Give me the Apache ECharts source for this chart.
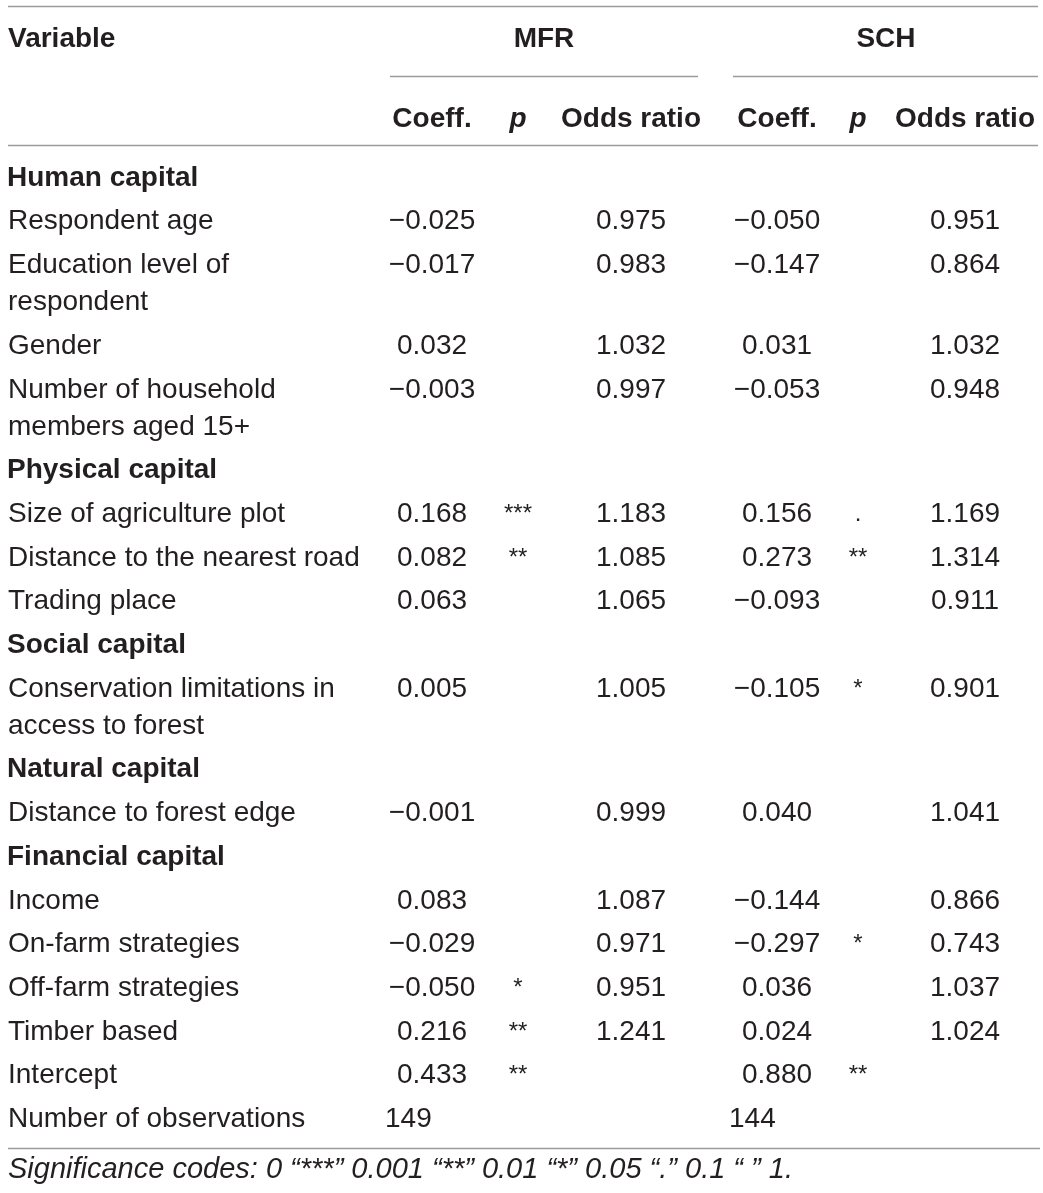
<!DOCTYPE html>
<html>
<head>
<meta charset="utf-8">
<script src="https://cdn.jsdelivr.net/npm/echarts@6/dist/echarts.min.js"></script>
<style>
html,body{margin:0;padding:0;background:#fff;}
#chart{width:1043px;height:1193px;}
</style>
</head>
<body>
<div id="chart"></div>
<script>
// ---------- DATA ----------
const headerTop = ['Variable', 'MFR', 'SCH'];
const subHeaders = ['Coeff.', 'p', 'Odds ratio'];
const sections = ['Human capital', 'Physical capital', 'Social capital', 'Natural capital', 'Financial capital'];
const rowLabels = [
  'Human capital',
  'Respondent age',
  'Education level of\nrespondent',
  'Gender',
  'Number of household\nmembers aged 15+',
  'Physical capital',
  'Size of agriculture plot',
  'Distance to the nearest road',
  'Trading place',
  'Social capital',
  'Conservation limitations in\naccess to forest',
  'Natural capital',
  'Distance to forest edge',
  'Financial capital',
  'Income',
  'On-farm strategies',
  'Off-farm strategies',
  'Timber based',
  'Intercept',
  'Number of observations'
];
const mfrCoeff = [null, -0.025, -0.017, 0.032, -0.003, null, 0.168, 0.082, 0.063, null, 0.005, null, -0.001, null, 0.083, -0.029, -0.050, 0.216, 0.433, null];
const mfrP     = ['', '', '', '', '', '', '***', '**', '', '', '', '', '', '', '', '', '*', '**', '**', ''];
const mfrOdds  = [null, 0.975, 0.983, 1.032, 0.997, null, 1.183, 1.085, 1.065, null, 1.005, null, 0.999, null, 1.087, 0.971, 0.951, 1.241, null, null];
const schCoeff = [null, -0.050, -0.147, 0.031, -0.053, null, 0.156, 0.273, -0.093, null, -0.105, null, 0.040, null, -0.144, -0.297, 0.036, 0.024, 0.880, null];
const schP     = ['', '', '', '', '', '', '.', '**', '', '', '*', '', '', '', '', '*', '', '', '**', ''];
const schOdds  = [null, 0.951, 0.864, 1.032, 0.948, null, 1.169, 1.314, 0.911, null, 0.901, null, 1.041, null, 0.866, 0.743, 1.037, 1.024, null, null];
const observations = [149, 144];
const footnote = 'Significance codes: 0 \u201c***\u201d 0.001 \u201c**\u201d 0.01 \u201c*\u201d 0.05 \u201c.\u201d 0.1 \u201c \u201d 1.';

// ---------- LAYOUT ----------
const L = {
  W: 1043, H: 1193,
  fs: 28, starFs: 24, footFs: 29,
  family: '"Liberation Sans", Arial, Helvetica, sans-serif',
  color: '#231f20',
  rule: '#9b9b9b', ruleW: 1.6,
  textLeft: 8, sectionLeft: 7, textDy: 2,
  cols: [432, 518, 631, 777, 858, 965],
  groupCenter: [544, 886],
  obsLeft: [385, 729],
  ruleX: [8, 1038],
  groupRules: [[390, 698], [733, 1038]],
  yTopRule: 6, yHead1: 37, yGroupRule: 76, yHead2: 117, yHeadRule: 145,
  yFirstRow: 176, rowH: 43.7, lineH: 37,
  yBottomRule: 1148, yFoot: 1168
};

function fmt(v) {
  if (v === null || v === undefined) return '';
  const s = Math.abs(v).toFixed(3);
  return v < 0 ? '\u2212' + s : s;
}

// ---------- BUILD CELLS ----------
const cells = [];
function addCell(x, y, text, opt) {
  cells.push(Object.assign({ x: x, y: y + L.textDy, text: text, align: 'center', weight: 'normal', style: 'normal', size: L.fs }, opt || {}));
}

// header row 1
addCell(L.textLeft, L.yHead1, headerTop[0], { align: 'left', weight: 'bold' });
addCell(L.groupCenter[0], L.yHead1, headerTop[1], { weight: 'bold' });
addCell(L.groupCenter[1], L.yHead1, headerTop[2], { weight: 'bold' });
// header row 2
[0, 1].forEach(function (g) {
  subHeaders.forEach(function (h, k) {
    addCell(L.cols[g * 3 + k], L.yHead2, h, { weight: 'bold', style: k === 1 ? 'italic' : 'normal' });
  });
});

// body rows
let y = L.yFirstRow;
rowLabels.forEach(function (label, i) {
  const lines = label.split('\n');
  const isSection = sections.indexOf(label) >= 0;
  lines.forEach(function (ln, j) {
    addCell(isSection ? L.sectionLeft : L.textLeft, y + j * L.lineH, ln, { align: 'left', weight: isSection ? 'bold' : 'normal' });
  });
  const vals = [fmt(mfrCoeff[i]), mfrP[i], fmt(mfrOdds[i]), fmt(schCoeff[i]), schP[i], fmt(schOdds[i])];
  vals.forEach(function (v, k) {
    if (!v) return;
    const isStar = (k === 1 || k === 4);
    addCell(L.cols[k], y, v, isStar ? { size: L.starFs } : {});
  });
  if (label === 'Number of observations') {
    observations.forEach(function (n, g) {
      addCell(L.obsLeft[g], y, String(n), { align: 'left' });
    });
  }
  y += L.rowH + (lines.length - 1) * L.lineH;
});

// footnote
addCell(L.textLeft, L.yFoot, footnote, { align: 'left', style: 'italic', size: L.footFs });

// rules
const rules = [
  [L.ruleX[0], L.yTopRule, L.ruleX[1], L.yTopRule],
  [L.groupRules[0][0], L.yGroupRule, L.groupRules[0][1], L.yGroupRule],
  [L.groupRules[1][0], L.yGroupRule, L.groupRules[1][1], L.yGroupRule],
  [L.ruleX[0], L.yHeadRule, L.ruleX[1], L.yHeadRule],
  [L.ruleX[0], L.yBottomRule, L.ruleX[1] + 2, L.yBottomRule]
];

// ---------- CHART ----------
const chart = echarts.init(document.getElementById('chart'), null, { renderer: 'canvas' });
chart.setOption({
  animation: false,
  backgroundColor: '#ffffff',
  grid: { left: 0, right: 0, top: 0, bottom: 0 },
  xAxis: { type: 'value', min: 0, max: L.W, show: false },
  yAxis: { type: 'value', min: 0, max: L.H, inverse: true, show: false },
  series: [
    {
      type: 'custom',
      coordinateSystem: 'cartesian2d',
      silent: true,
      data: rules,
      renderItem: function (params, api) {
        const p1 = api.coord([api.value(0), api.value(1)]);
        const p2 = api.coord([api.value(2), api.value(3)]);
        return {
          type: 'line',
          shape: { x1: p1[0], y1: Math.round(p1[1]) + 0.5, x2: p2[0], y2: Math.round(p2[1]) + 0.5 },
          style: { stroke: L.rule, lineWidth: L.ruleW }
        };
      }
    },
    {
      type: 'custom',
      coordinateSystem: 'cartesian2d',
      silent: true,
      data: cells.map(function (c) { return [c.x, c.y]; }),
      renderItem: function (params, api) {
        const c = cells[params.dataIndex];
        const p = api.coord([api.value(0), api.value(1)]);
        return {
          type: 'text',
          x: p[0], y: p[1],
          style: {
            text: c.text,
            fill: L.color,
            fontSize: c.size,
            fontFamily: L.family,
            fontWeight: c.weight,
            fontStyle: c.style,
            align: c.align,
            verticalAlign: 'middle',
            textAlign: c.align,
            textVerticalAlign: 'middle'
          }
        };
      }
    }
  ]
});
</script>
</body>
</html>
